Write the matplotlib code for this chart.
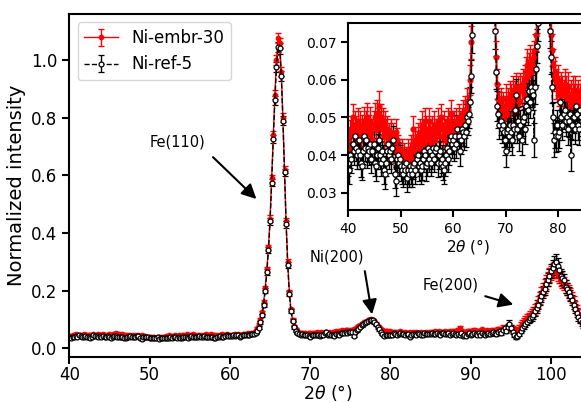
import numpy as np
import matplotlib
matplotlib.use('Agg')
import matplotlib.pyplot as plt

# 2theta scan grid (deg), 0.2 deg step
theta_start, theta_stop, theta_step = 40.0, 104.4, 0.2
two_theta = np.round(np.arange(theta_start, theta_stop + 0.01, theta_step), 1)

# Ni-embr-30, normalized intensity x1000
embr_30 = np.array([
    44, 42, 46, 47, 50, 45, 48, 47, 44, 49,
    46, 48, 45, 47, 44, 49, 46, 48, 50, 45,
    47, 49, 46, 44, 48, 50, 47, 51, 49, 53,
    48, 50, 47, 49, 45, 48, 46, 47, 44, 45,
    43, 46, 42, 45, 41, 46, 44, 42, 41, 40,
    39, 41, 38, 40, 37, 39, 38, 41, 39, 40,
    42, 39, 47, 41, 44, 43, 45, 42, 46, 44,
    48, 45, 43, 49, 47, 44, 46, 49, 45, 43,
    47, 45, 48, 44, 46, 49, 47, 45, 50, 47,
    45, 48, 46, 44, 47, 49, 46, 48, 51, 47,
    46, 48, 45, 49, 47, 50, 48, 46, 49, 51,
    49, 52, 50, 54, 52, 54, 60, 70, 82, 100,
    125, 160, 210, 275, 350, 450, 590, 740, 880, 1000,
    1075, 1060, 960, 800, 620, 440, 300, 195, 135, 100,
    78, 66, 59, 55, 53,
    54, 52, 53, 50, 52, 55, 51, 54, 53, 56,
    55, 54, 57, 53, 56, 58, 55, 57, 54, 58,
    57, 59, 56, 60, 62, 64, 61, 63, 65, 62,
    64, 63, 66, 68, 72, 77, 80, 84, 88, 92,
    93, 97, 100, 101, 98, 93, 86, 78, 72, 68,
    64, 61, 62, 59, 58, 60, 57, 56, 58, 57,
    56, 59, 57, 55, 58, 55, 53, 56, 54, 57,
    55, 57, 54, 55, 56, 53, 55, 57, 54, 56,
    57, 55, 58, 60, 56, 59, 57, 55, 58, 60,
    58, 56, 59, 57, 61, 58, 60, 64, 72, 62,
    58, 55, 57, 62, 59, 56, 60, 64, 58, 61,
    59, 62, 66, 60, 58, 63, 61, 59, 64, 62,
    60, 63, 66, 62, 65, 70, 68, 66, 72, 76,
    70, 66, 63, 60, 64,
    68, 78, 86, 92, 98, 104, 108, 114, 120, 126,
    136, 148, 162, 176, 190, 204, 216, 230, 242, 254,
    262, 270, 274, 268, 258, 250, 240, 234, 226, 216,
    206, 198, 188, 176, 162, 148, 134, 120, 108, 98,
    90, 82, 76]) / 1000

# error bars x10000
embr_30_err = np.array([
    34, 36, 33, 35, 37, 34, 36, 35, 33, 36,
    35, 37, 34, 36, 33, 37, 35, 36, 38, 34,
    36, 37, 35, 33, 36, 38, 35, 37, 36, 39,
    36, 37, 35, 36, 34, 36, 35, 35, 33, 34,
    33, 35, 32, 34, 32, 35, 33, 32, 32, 31,
    31, 32, 30, 31, 30, 31, 30, 32, 31, 31,
    32, 31, 35, 32, 34, 33, 34, 32, 35, 34,
    36, 34, 33, 36, 35, 34, 35, 36, 34, 33,
    35, 34, 36, 33, 35, 36, 35, 34, 37, 35,
    34, 36, 35, 33, 35, 36, 35, 36, 37, 35,
    35, 36, 34, 36, 35, 37, 36, 35, 36, 37,
    36, 37, 36, 38, 37, 38, 40, 44, 48, 53,
    58, 66, 76, 86, 98, 112, 128, 144, 158, 170,
    178, 176, 166, 152, 134, 112, 94, 76, 62, 54,
    46, 42, 40, 38, 38,
    38, 37, 37, 36, 37, 38, 36, 38, 37, 38,
    38, 37, 39, 37, 38, 39, 38, 39, 37, 39,
    39, 40, 38, 40, 41, 42, 41, 42, 42, 41,
    42, 41, 42, 43, 44, 46, 47, 48, 49, 50,
    51, 52, 52, 52, 51, 50, 48, 46, 44, 43,
    42, 41, 41, 40, 40, 40, 39, 39, 40, 39,
    39, 40, 39, 39, 40, 39, 38, 39, 38, 40,
    39, 40, 38, 39, 39, 38, 39, 40, 38, 39,
    48, 46, 50, 52, 48, 50, 47, 46, 50, 52,
    50, 48, 52, 50, 54, 50, 52, 58, 70, 56,
    52, 50, 52, 58, 54, 52, 56, 60, 54, 56,
    54, 58, 62, 56, 54, 58, 56, 54, 60, 58,
    80, 86, 92, 88, 94, 104, 100, 98, 106, 112,
    110, 104, 100, 98, 104,
    116, 128, 136, 144, 150, 156, 162, 168, 174, 180,
    188, 196, 204, 212, 220, 228, 234, 240, 246, 250,
    254, 256, 256, 254, 250, 246, 240, 236, 230, 224,
    218, 212, 206, 198, 190, 180, 170, 160, 150, 140,
    132, 126, 120]) / 10000

# Ni-ref-5, normalized intensity x1000
ref_5 = np.array([
    38, 36, 40, 39, 43, 41, 45, 42, 40, 41,
    44, 40, 38, 37, 41, 45, 42, 44, 40, 42,
    41, 43, 39, 41, 43, 38, 37, 40, 42, 44,
    40, 38, 41, 39, 36, 35, 38, 41, 43, 40,
    41, 39, 42, 44, 35, 33, 39, 40, 38, 39,
    37, 36, 35, 37, 36, 38, 34, 36, 35, 37,
    36, 35, 37, 38, 36, 39, 40, 37, 38, 36,
    37, 39, 41, 40, 37, 38, 42, 39, 41, 38,
    40, 42, 39, 41, 42, 38, 40, 41, 38, 39,
    37, 36, 38, 40, 42, 39, 41, 44, 45, 43,
    44, 42, 45, 43, 47, 45, 41, 44, 47, 46,
    45, 48, 46, 50, 49, 51, 54, 61, 72, 90,
    115, 150, 200, 265, 340, 440, 575, 725, 860, 975,
    1045, 1040, 945, 790, 610, 430, 290, 190, 130, 96,
    73, 62, 53, 51, 48,
    49, 47, 48, 46, 44, 41, 46, 47, 45, 48,
    46, 44, 48, 47, 52, 56, 47, 49, 45, 48,
    44, 49, 50, 47, 53, 55, 52, 57, 54, 58,
    57, 56, 44, 58, 63, 69, 75, 80, 85, 89,
    91, 95, 99, 100, 97, 91, 83, 73, 66, 58,
    50, 44, 46, 45, 48, 45, 46, 54, 50, 48,
    51, 52, 49, 50, 47, 49, 51, 40, 48, 50,
    50, 47, 53, 51, 48, 47, 52, 50, 49, 51,
    50, 53, 49, 51, 55, 50, 48, 52, 54, 49,
    51, 53, 48, 50, 52, 49, 47, 50, 46, 52,
    44, 48, 43, 50, 53, 46, 49, 55, 51, 47,
    52, 48, 54, 50, 46, 51, 55, 49, 52, 57,
    53, 50, 58, 61, 55, 64, 70, 62, 75, 86,
    72, 58, 48, 40, 44,
    50, 62, 70, 78, 86, 92, 100, 104, 110, 116,
    128, 140, 152, 168, 180, 196, 206, 222, 238, 250,
    268, 280, 292, 298, 286, 272, 252, 244, 236, 214,
    205, 194, 182, 168, 152, 138, 124, 110, 100, 90,
    82, 75, 70]) / 1000

ref_5_err = np.array([
    36, 38, 35, 37, 34, 36, 35, 37, 38, 36,
    35, 37, 38, 36, 35, 34, 37, 36, 35, 38,
    37, 36, 38, 35, 37, 36, 38, 37, 35, 36,
    38, 37, 35, 36, 38, 39, 36, 35, 37, 36,
    35, 37, 36, 38, 37, 39, 36, 35, 37, 36,
    38, 37, 36, 35, 37, 36, 38, 37, 36, 35,
    37, 36, 35, 38, 36, 35, 37, 38, 36, 37,
    36, 35, 37, 36, 38, 37, 36, 35, 37, 36,
    37, 36, 35, 37, 36, 38, 37, 36, 35, 37,
    36, 38, 35, 37, 36, 35, 37, 36, 38, 37,
    36, 37, 35, 38, 36, 37, 38, 36, 37, 36,
    37, 36, 38, 37, 38, 39, 40, 44, 48, 54,
    60, 68, 78, 88, 100, 114, 130, 146, 160, 172,
    180, 178, 168, 154, 136, 114, 96, 78, 64, 56,
    48, 44, 40, 39, 38,
    38, 39, 37, 38, 40, 41, 39, 38, 40, 37,
    39, 40, 38, 37, 41, 42, 39, 38, 40, 39,
    41, 40, 39, 40, 42, 41, 40, 42, 41, 43,
    42, 40, 44, 43, 44, 46, 47, 48, 49, 50,
    51, 52, 52, 52, 51, 50, 48, 46, 44, 42,
    41, 44, 40, 42, 41, 40, 42, 41, 40, 41,
    40, 41, 39, 40, 42, 41, 40, 43, 41, 40,
    41, 40, 39, 41, 40, 42, 41, 40, 39, 41,
    42, 41, 43, 42, 41, 43, 42, 41, 43, 42,
    43, 42, 44, 43, 42, 44, 43, 42, 44, 43,
    44, 43, 45, 44, 43, 45, 44, 43, 45, 44,
    45, 44, 46, 45, 44, 46, 45, 44, 46, 45,
    60, 62, 66, 70, 68, 74, 80, 78, 90, 110,
    96, 80, 72, 68, 70,
    80, 88, 96, 104, 110, 116, 122, 128, 134, 140,
    150, 160, 170, 180, 190, 200, 210, 220, 230, 240,
    250, 260, 270, 280, 270, 260, 250, 240, 230, 220,
    210, 200, 190, 180, 170, 160, 150, 140, 130, 120,
    110, 100, 95]) / 10000

# peak labels: text (x, y), arrow tail, arrow head
peak_labels = ['Fe(110)', 'Ni(200)', 'Fe(200)']
label_xy = [(53.5, 0.716), (73.3, 0.317), (87.5, 0.219)]
arrow_tail = [(57.9, 0.663), (76.8, 0.268), (91.8, 0.181)]
arrow_head = [(63.3, 0.518), (77.7, 0.118), (95.3, 0.152)]


def draw_series(ax, ms, cap=2.5):
    ax.errorbar(two_theta, embr_30, yerr=embr_30_err, fmt='-o', color='red',
                ms=ms - 0.4, lw=1, elinewidth=1, capsize=cap, capthick=1,
                label='Ni-embr-30')
    ax.errorbar(two_theta, ref_5, yerr=ref_5_err, fmt='--o', color='black',
                mfc='white', mec='black', mew=0.9, ms=ms, lw=1, elinewidth=1,
                capsize=cap, capthick=1, label='Ni-ref-5')


def style_axes(ax, size):
    for s in ax.spines.values():
        s.set_linewidth(1.5)
    ax.tick_params(width=1.5, length=5, labelsize=size)


fig = plt.figure(figsize=(5.81, 4.03), dpi=100)

ax = fig.add_axes([0.1193, 0.114, 0.891, 0.851])
draw_series(ax, 3.5)
ax.set_xlim(40, 104.47)
ax.set_ylim(-0.03, 1.159)
ax.set_xticks([40, 50, 60, 70, 80, 90, 100])
ax.set_yticks([0.0, 0.2, 0.4, 0.6, 0.8, 1.0])
style_axes(ax, 12)
ax.tick_params(axis='x', pad=1.5)
ax.set_xlabel(r'$2\theta$ (°)', fontsize=12.5, labelpad=-1)
ax.set_ylabel('Normalized intensity', fontsize=14)
ax.legend(loc='upper left', fontsize=12)

for lab, txy, tail, head in zip(peak_labels, label_xy, arrow_tail, arrow_head):
    ax.text(txy[0], txy[1], lab, fontsize=10.5, ha='center', va='center')
    ax.annotate('', xy=head, xytext=tail,
                arrowprops=dict(arrowstyle='-|>', color='black', lw=1.5,
                                mutation_scale=22, shrinkA=0, shrinkB=0))

# inset zoom on the background
axin = fig.add_axes([0.5995, 0.479, 0.4108, 0.4648])
draw_series(axin, 3.8, cap=2)
axin.set_xlim(40, 85.47)
axin.set_ylim(0.0254, 0.0752)
axin.set_xticks([40, 50, 60, 70, 80])
axin.set_yticks([0.03, 0.04, 0.05, 0.06, 0.07])
style_axes(axin, 10)
axin.set_xlabel(r'$2\theta$ (°)', fontsize=11, labelpad=1)

fig.savefig('out.png', dpi=100)
